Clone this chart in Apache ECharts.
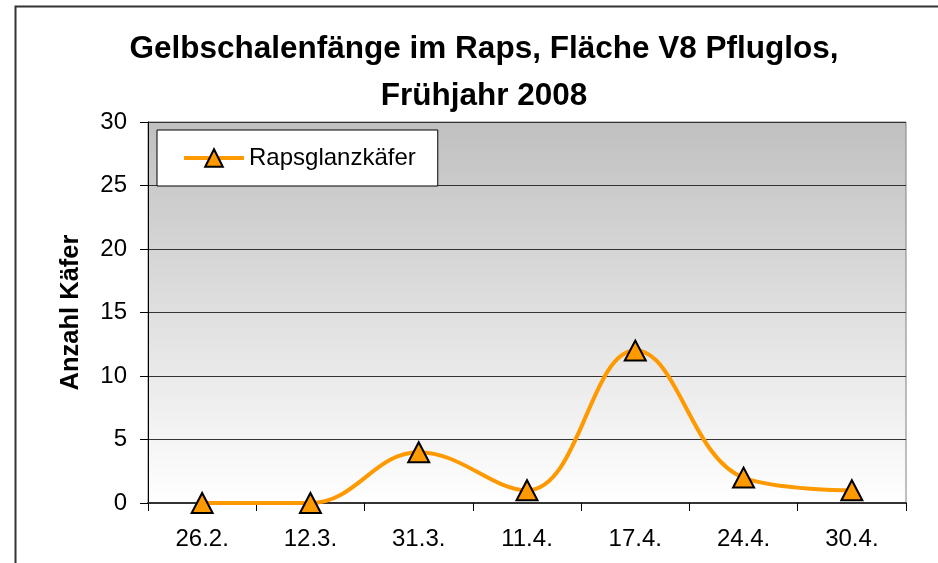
<!DOCTYPE html>
<html>
<head>
<meta charset="utf-8">
<script src="https://cdn.jsdelivr.net/npm/echarts@6/dist/echarts.min.js"></script>
<style>
  html, body { margin: 0; padding: 0; background: #fff; }
  #chart { width: 938px; height: 563px; }
</style>
</head>
<body>
<div id="chart"></div>
<script>
// Daten
const categories = ['26.2.', '12.3.', '31.3.', '11.4.', '17.4.', '24.4.', '30.4.'];
const rapsglanzkaefer = [0, 0, 4, 1, 12, 2, 1];
const yTicks = [0, 5, 10, 15, 20, 25, 30];

const chart = echarts.init(document.getElementById('chart'));

const option = {
  backgroundColor: '#fff',
  animation: false,
  textStyle: { fontFamily: 'Liberation Sans, Arial, sans-serif' },
  title: {
    text: 'Gelbschalenfänge im Raps, Fläche V8 Pfluglos,\nFrühjahr 2008',
    left: 479,
    top: 21,
    textAlign: 'center',
    textStyle: {
      fontSize: 31.5,
      fontWeight: 'bold',
      color: '#000',
      lineHeight: 47
    }
  },
  graphic: [{
    type: 'rect',
    shape: { x: 15.5, y: 6.5, width: 1000, height: 1000 },
    style: { fill: 'none', stroke: '#333', lineWidth: 2 },
    silent: true
  }],
  legend: {
    left: 157,
    top: 130,
    backgroundColor: '#fff',
    borderColor: '#000',
    borderWidth: 1,
    padding: [16, 22, 16, 25],
    itemWidth: 60,
    itemHeight: 22,
    itemGap: 6,
    lineStyle: { width: 4, color: '#FF9900' },
    textStyle: { fontSize: 24, color: '#000' },
    data: ['Rapsglanzkäfer']
  },
  grid: {
    left: 148,
    right: 32,
    top: 122,
    bottom: 60,
    show: true,
    borderColor: '#808080',
    borderWidth: 1,
    backgroundColor: new echarts.graphic.LinearGradient(0, 0, 0, 1, [
      { offset: 0, color: '#c0c0c0' },
      { offset: 1, color: '#ffffff' }
    ])
  },
  xAxis: {
    type: 'category',
    data: categories,
    boundaryGap: true,
    axisLine: { lineStyle: { color: '#333', width: 2 } },
    axisTick: { show: true, alignWithLabel: false, length: 8, lineStyle: { color: '#000' } },
    axisLabel: { fontSize: 24, color: '#000', margin: 24 }
  },
  yAxis: {
    type: 'value',
    min: 0,
    max: 30,
    interval: 5,
    name: 'Anzahl Käfer',
    nameLocation: 'middle',
    nameGap: 64,
    nameRotate: 90,
    nameTextStyle: { fontSize: 25.5, fontWeight: 'bold', color: '#000' },
    axisLine: { show: true, lineStyle: { color: '#000', width: 1 } },
    axisTick: { show: true, length: 8, lineStyle: { color: '#000' } },
    axisLabel: {
      fontSize: 24,
      color: '#000',
      margin: 21,
      formatter: v => yTicks.includes(v) ? String(v) : ''
    },
    splitLine: { show: true, lineStyle: { color: '#333', width: 1 } }
  },
  series: [{
    name: 'Rapsglanzkäfer',
    type: 'line',
    data: rapsglanzkaefer,
    smooth: 0.4,
    symbol: 'triangle',
    symbolSize: [21, 20],
    lineStyle: { color: '#FF9900', width: 4 },
    itemStyle: { color: '#FF9900', borderColor: '#000', borderWidth: 2 },
    z: 5
  }]
};

chart.setOption(option);
</script>
</body>
</html>
